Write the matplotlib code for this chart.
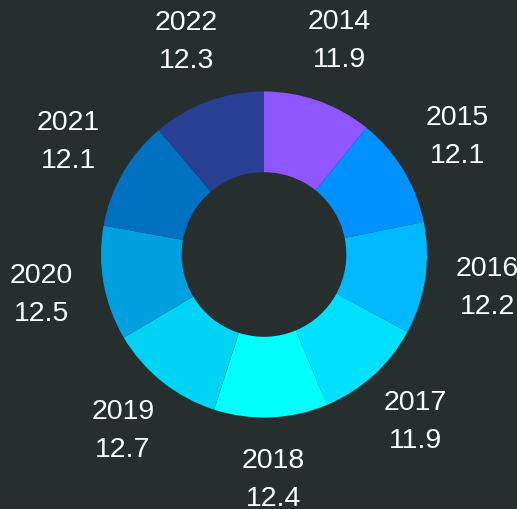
import numpy as np
import matplotlib
matplotlib.use("Agg")
import matplotlib.pyplot as plt

years = ["2014", "2015", "2016", "2017", "2018", "2019", "2020", "2021", "2022"]
values = [11.9, 12.1, 12.2, 11.9, 12.4, 12.7, 12.5, 12.1, 12.3]
colors = ["#8f55ff", "#0091ff", "#00b9ff", "#00e0ff", "#00ffff",
          "#00d3f3", "#009fe0", "#0071c0", "#283f94"]

BG = "#262e2e"
W, H = 517, 509
fig = plt.figure(figsize=(W / 100, H / 100), dpi=100, facecolor=BG)
ax = fig.add_axes([0, 0, 1, 1])
ax.set_facecolor(BG)

cx, cy, R = 264, H - 254.5, 163
ax.pie(values, colors=colors, radius=R, center=(cx, cy), startangle=90,
       counterclock=False, wedgeprops=dict(width=R * 0.495, linewidth=0),
       frame=True)
ax.set_xlim(0, W)
ax.set_ylim(0, H)
ax.set_aspect("equal")
ax.axis("off")

total = sum(values)
cum = 0
for y, v in zip(years, values):
    mid = (cum + v / 2) / total * 2 * np.pi
    cum += v
    r = 226
    x = cx + r * np.sin(mid)
    yy = cy + r * np.cos(mid)
    ax.text(x, yy, f"{y}\n{v}", ha="center", va="center", color="white",
            fontsize=20.5, family="Liberation Sans", linespacing=1.6)

fig.savefig("out.png", dpi=100, facecolor=BG)
